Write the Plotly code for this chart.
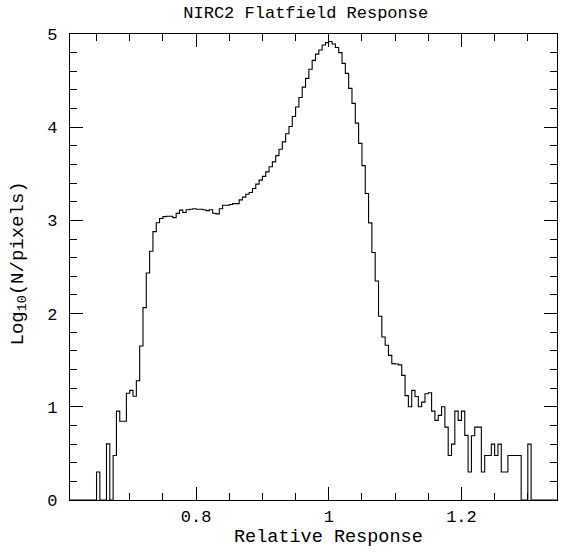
import numpy as np
import plotly.graph_objects as go

# Histogram: bins of width 0.005 starting at 0.65 ; values are log10(N)
bin_start = 0.65
bin_width = 0.005
log_counts = [
    0.301, 0.0, 0.0, 0.602, 0.0, 0.477, 0.954, 0.845, 0.845, 1.146,
    1.176, 1.114, 1.279, 1.653, 2.064, 2.436, 2.669, 2.88, 2.975, 3.02,
    3.04, 3.045, 3.045, 3.03, 3.075, 3.11, 3.085, 3.115, 3.12, 3.125,
    3.12, 3.12, 3.115, 3.105, 3.115, 3.077, 3.07, 3.125, 3.163, 3.163,
    3.17, 3.18, 3.18, 3.22, 3.25, 3.28, 3.30, 3.342, 3.389, 3.432,
    3.472, 3.521, 3.575, 3.628, 3.695, 3.763, 3.843, 3.93, 4.008, 4.115,
    4.216, 4.318, 4.43, 4.524, 4.622, 4.717, 4.784, 4.828, 4.882, 4.907,
    4.92, 4.893, 4.855, 4.80, 4.685, 4.578, 4.417, 4.256, 4.044, 3.826,
    3.588, 3.289, 2.973, 2.655, 2.35, 1.971, 1.749, 1.66, 1.552, 1.463,
    1.46, 1.45, 1.337, 1.12, 1.0, 1.176, 1.11, 1.0, 1.05, 1.14,
    1.15, 0.954, 0.854, 0.908, 1.0, 0.782, 0.478, 0.6, 0.954, 0.854,
    0.954, 0.693, 0.301, 0.69, 0.782, 0.782, 0.301, 0.478, 0.478, 0.6,
    0.478, 0.6, 0.301, 0.301, 0.478, 0.478, 0.478, 0.478, 0.0, 0.0,
    0.6,
]

x_tick_vals = [0.8, 1.0, 1.2]
x_tick_text = ["0.8", "1", "1.2"]
y_tick_vals = [0, 1, 2, 3, 4, 5]
y_tick_text = ["0", "1", "2", "3", "4", "5"]

x_range = [0.61, 1.344]
y_range = [0, 5]

title_text = "NIRC2 Flatfield Response"
x_label = "Relative Response"
y_label = "Log<sub>10</sub>(N/pixels)"

n = len(log_counts)
edges = bin_start + bin_width * np.arange(n + 1)
xs = [x_range[0]] + list(edges) + [x_range[1]]
ys = [0.0] + list(log_counts) + [0.0, 0.0]

font_fam = "Liberation Mono"
W, H = 561, 552

fig = go.Figure()
fig.add_trace(go.Scatter(
    x=xs, y=ys, mode="lines", line=dict(shape="hv", color="black", width=1.1),
    hoverinfo="skip", showlegend=False,
))

axis_common = dict(
    showgrid=False, zeroline=False, showline=True, linecolor="black", linewidth=1.2,
    mirror="ticks", ticks="inside", ticklen=13, tickwidth=1.1, tickcolor="black",
    tickfont=dict(family=font_fam, size=17, color="black"),
)

fig.update_layout(
    width=W, height=H,
    margin=dict(l=70, r=4, t=34, b=52),
    paper_bgcolor="white", plot_bgcolor="white",
    title=dict(text=title_text, x=0.545, xanchor="center",
               y=1 - 12 / H, yanchor="middle", yref="container",
               font=dict(family=font_fam, size=17, color="black")),
    xaxis=dict(range=x_range, tickvals=x_tick_vals, ticktext=x_tick_text,
               minor=dict(ticks="inside", ticklen=7, dtick=0.05, tick0=0.6,
                          tickcolor="black", tickwidth=1.1, showgrid=False),
               **axis_common),
    yaxis=dict(range=y_range, tickvals=y_tick_vals, ticktext=y_tick_text,
               ticklabelstandoff=8,
               minor=dict(ticks="inside", ticklen=7, dtick=0.2, tick0=0,
                          tickcolor="black", tickwidth=1.1, showgrid=False),
               **axis_common),
    annotations=[
        dict(text=x_label, xref="paper", yref="paper",
             x=(328.5 - 70) / (W - 74), y=-(537 - 499.5) / (H - 86),
             xanchor="center", yanchor="middle", showarrow=False,
             font=dict(family=font_fam, size=18.5, color="black")),
        dict(text=y_label, xref="paper", yref="paper",
             x=-(70 - 18) / (W - 74), y=(499.5 - 263) / (H - 86),
             xanchor="center", yanchor="middle", showarrow=False, textangle=-90,
             font=dict(family=font_fam, size=19, color="black")),
    ],
)

fig.write_html("out.html")
